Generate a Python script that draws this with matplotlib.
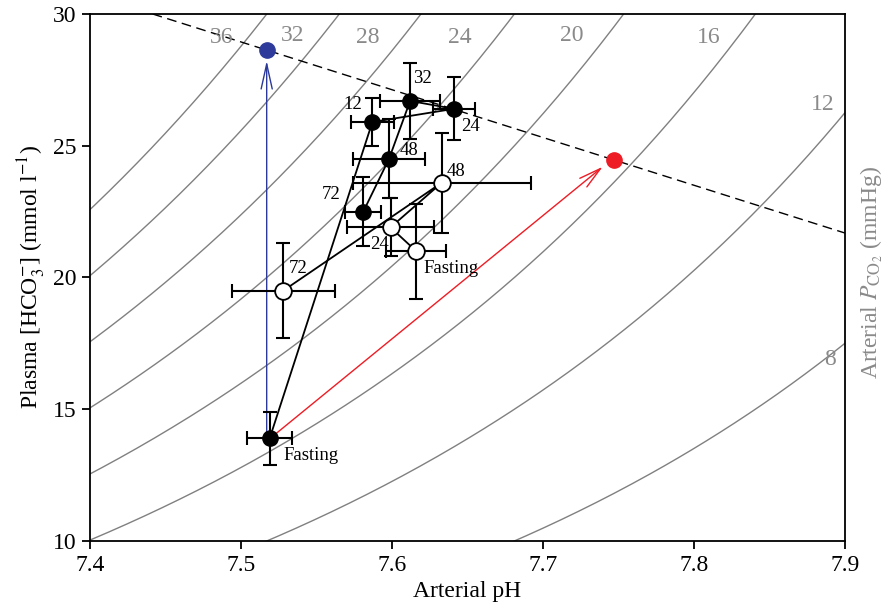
import numpy as np
import matplotlib
matplotlib.use("Agg")
import matplotlib.pyplot as plt

plt.rcParams["font.family"] = ["Liberation Serif", "DejaVu Serif"]
plt.rcParams["mathtext.fontset"] = "stix"

# PCO2 isopleths (mmHg)
pco2_levels = [36, 32, 28, 24, 20, 16, 12, 8]

# fed group (filled) - hours after feeding
fed_labels = ["Fasting", "12", "24", "32", "48", "72"]
fed_ph = [7.519, 7.587, 7.641, 7.612, 7.598, 7.581]
fed_ph_err = [0.015, 0.014, 0.014, 0.020, 0.024, 0.012]
fed_hco3 = [13.9, 25.9, 26.4, 26.7, 24.5, 22.5]
fed_hco3_err = [1.0, 0.9, 1.2, 1.45, 1.5, 1.3]

# second group (open)
open_labels = ["Fasting", "24", "48", "72"]
open_ph = [7.616, 7.599, 7.633, 7.528]
open_ph_err = [0.020, 0.029, 0.059, 0.034]
open_hco3 = [21.0, 21.9, 23.6, 19.5]
open_hco3_err = [1.8, 1.1, 1.9, 1.8]

# predicted points
blue_pt = (7.517, 28.63)
red_pt = (7.747, 24.46)


def isopleth(ph, pco2):
    pk = 6.111 - np.log10(1 + 10 ** (ph - 8.7))
    return 0.0307 * pco2 * 10 ** (ph - pk)


fig = plt.figure(figsize=(8.94, 6.13), dpi=100)
ax = fig.add_axes([0.1007, 0.1175, 0.8445, 0.8597])

ph_grid = np.linspace(7.3, 8.0, 300)
for p in pco2_levels:
    ax.plot(ph_grid, isopleth(ph_grid, p), color="#808080", lw=1.0, zorder=1)

# isopleth labels
label_pos = [(7.487, 29.1), (7.534, 29.2), (7.584, 29.1), (7.645, 29.1),
             (7.719, 29.2), (7.810, 29.1), (7.885, 26.55), (7.890, 16.9)]
for p, (x, y) in zip(pco2_levels, label_pos):
    ax.text(x, y, str(p), color="#8a8a8a", fontsize=17, ha="center", va="center")

# buffer line
ax.axline(blue_pt, red_pt, color="black", lw=1.0, ls=(0, (7, 4)), zorder=2)

# arrows
ax.annotate("", xy=(blue_pt[0], 28.33), xytext=(blue_pt[0], fed_hco3[0]),
            arrowprops=dict(arrowstyle="->,head_length=1.8,head_width=0.4",
                            color="#2b3a9a", lw=1.0), zorder=3)
ax.annotate("", xy=(7.741, 24.27), xytext=(7.5205, 13.95),
            arrowprops=dict(arrowstyle="->,head_length=1.6,head_width=0.4",
                            color="#ee1c24", lw=1.0), zorder=3)
ax.plot(*blue_pt, "o", color="#2e3b9b", ms=11, zorder=6)
ax.plot(*red_pt, "o", color="#ee1c24", ms=11, zorder=6)

# data
ax.plot(fed_ph, fed_hco3, color="black", lw=1.3, zorder=4)
ax.plot(open_ph, open_hco3, color="black", lw=1.3, zorder=4)
ax.errorbar(fed_ph, fed_hco3, xerr=fed_ph_err, yerr=fed_hco3_err, fmt="none",
            ecolor="black", elinewidth=1.5, capsize=5, capthick=1.5, zorder=5)
ax.errorbar(open_ph, open_hco3, xerr=open_ph_err, yerr=open_hco3_err, fmt="none",
            ecolor="black", elinewidth=1.5, capsize=5, capthick=1.5, zorder=5)
ax.plot(fed_ph, fed_hco3, "o", color="black", ms=11, ls="none", zorder=7)
ax.plot(open_ph, open_hco3, "o", mfc="white", mec="black", mew=1.3, ms=12,
        ls="none", zorder=7)

# point labels
fed_txt = [(7.5278, 13.26, "left"), (7.5801, 26.55, "right"), (7.6457, 25.73, "left"),
           (7.6139, 27.57, "left"), (7.6053, 24.8, "left"), (7.5656, 23.13, "right")]
for lab, (x, y, ha) in zip(fed_labels, fed_txt):
    ax.text(x, y, lab, fontsize=13.5, ha=ha, va="center", zorder=8)
open_txt = [(7.6205, 20.34, "left"), (7.5854, 21.25, "left"),
            (7.6364, 24.04, "left"), (7.5318, 20.34, "left")]
for lab, (x, y, ha) in zip(open_labels, open_txt):
    ax.text(x, y, lab, fontsize=13.5, ha=ha, va="center", zorder=8)

ax.set_xlim(7.4, 7.9)
ax.set_ylim(10, 30)
ax.set_xticks([7.4, 7.5, 7.6, 7.7, 7.8, 7.9])
ax.set_xticklabels(["7.4", "7.5", "7.6", "7.7", "7.8", "7.9"])
ax.set_yticks([10, 15, 20, 25, 30])
ax.tick_params(direction="out", length=6, width=1.3, labelsize=17, pad=4)
for s in ax.spines.values():
    s.set_linewidth(1.3)

ax.set_xlabel("Arterial pH", fontsize=17, labelpad=4)
ax.set_ylabel("Plasma [HCO$_3^{-}$] (mmol l$^{-1}$)", fontsize=17, labelpad=3)
ax.text(1.036, 0.51, "Arterial $\\it{P}_{\\rm CO_2}$ (mmHg)", transform=ax.transAxes,
        rotation=90, ha="center", va="center", fontsize=17, color="#8a8a8a")

fig.savefig("out.png", dpi=100)
